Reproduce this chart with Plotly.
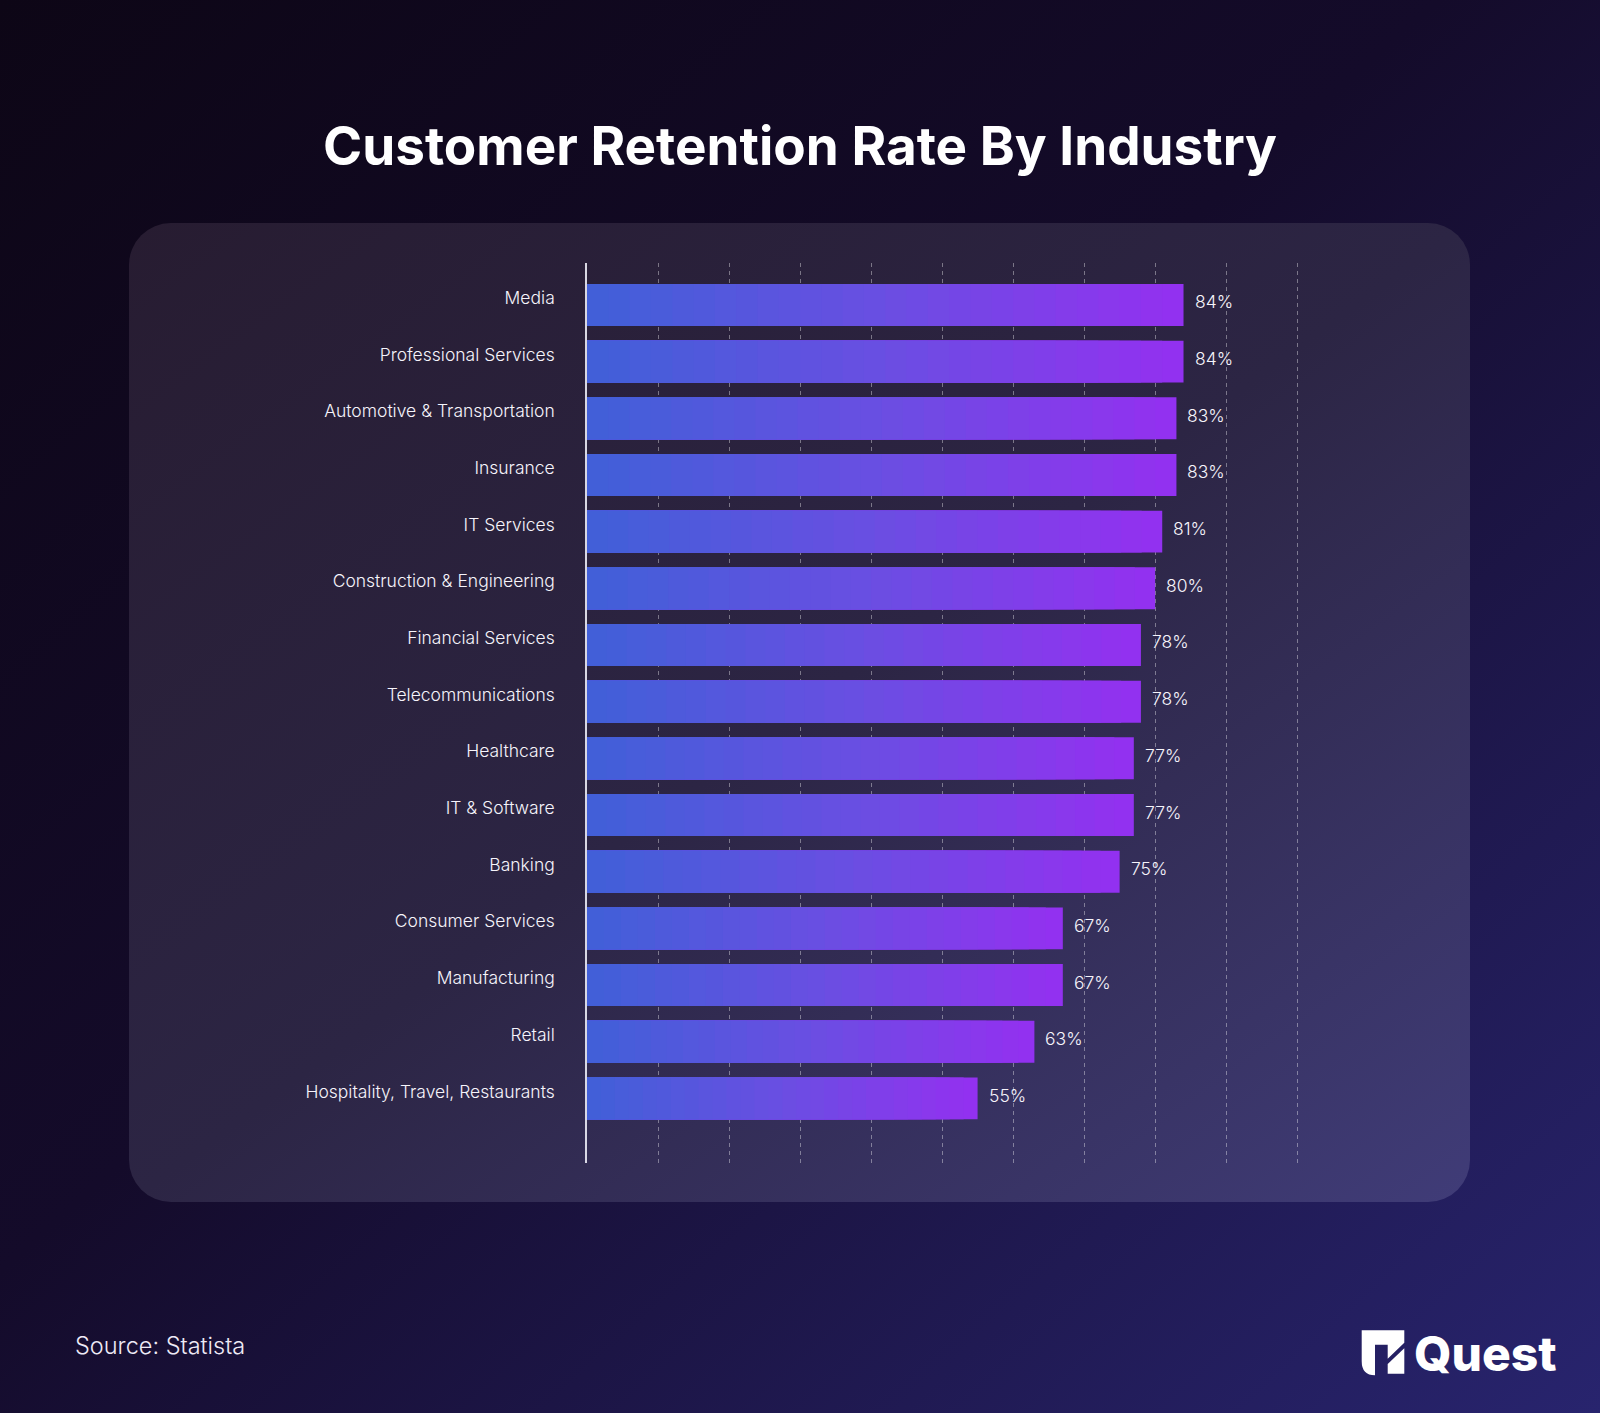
import base64
import plotly.graph_objects as go

# ---------------- data ----------------
industries = [
    "Media", "Professional Services", "Automotive & Transportation", "Insurance",
    "IT Services", "Construction & Engineering", "Financial Services",
    "Telecommunications", "Healthcare", "IT & Software", "Banking",
    "Consumer Services", "Manufacturing", "Retail", "Hospitality, Travel, Restaurants",
]
retention = [84, 84, 83, 83, 81, 80, 78, 78, 77, 77, 75, 67, 67, 63, 55]
value_labels = [f"{v}%" for v in retention]
grid_ticks = [10, 20, 30, 40, 50, 60, 70, 80, 90, 100]

title_text = "Customer Retention Rate By Industry"
source_text = "Source: Statista"
brand_text = "Quest"

# ---------------- layout geometry (pixels) ----------------
W, H = 1600, 1413
L, R, T, B = 587, 1300, 263, 1163
PW, PH = R - L, B - T


def px(x):
    return (x - L) / PW


def py(y):
    return (B - y) / PH


# ---------------- gradient helpers ----------------
stops = [(0.0, (64, 96, 216)), (0.5, (106, 78, 226)), (1.0, (148, 48, 240))]


def grad(t):
    for (t0, c0), (t1, c1) in zip(stops[:-1], stops[1:]):
        if t <= t1:
            u = (t - t0) / (t1 - t0)
            return "rgb(%d,%d,%d)" % tuple(round(a + (b - a) * u) for a, b in zip(c0, c1))
    return "rgb(%d,%d,%d)" % stops[-1][1]


N_LAYERS = 28
fig = go.Figure()
for i in range(N_LAYERS):
    f = 1 - i / N_LAYERS
    t = 1 - (i + 0.5) / N_LAYERS
    fig.add_trace(go.Bar(
        orientation="h",
        y=industries,
        x=[v * f for v in retention],
        marker=dict(color=grad(t), line=dict(width=0)),
        width=0.74,
        hoverinfo="skip",
        showlegend=False,
    ))

# value labels
for name, v, lab in zip(industries, retention, value_labels):
    fig.add_annotation(
        x=v, y=name, xref="x", yref="y", text=lab, showarrow=False,
        xanchor="left", yanchor="middle", xshift=9, yshift=3,
        font=dict(family="Inter", size=17.5, color="#f6f4fb", weight=300),
    )

# ---------------- background (gradient page + rounded panel) ----------------
svg = f"""<svg xmlns='http://www.w3.org/2000/svg' width='{W}' height='{H}' viewBox='0 0 {W} {H}' preserveAspectRatio='none'>
<defs>
<linearGradient id='bg' x1='0' y1='0' x2='1' y2='1'>
<stop offset='0' stop-color='#0d0616'/>
<stop offset='0.45' stop-color='#140b2a'/>
<stop offset='1' stop-color='#28246e'/>
</linearGradient>
<linearGradient id='pn' x1='0' y1='0' x2='1' y2='1'>
<stop offset='0' stop-color='#271c31'/>
<stop offset='0.5' stop-color='#2c2544'/>
<stop offset='1' stop-color='#403c78'/>
</linearGradient>
</defs>
<rect width='{W}' height='{H}' fill='url(#bg)'/>
<rect x='129' y='223' width='1341' height='979' rx='42' ry='42' fill='url(#pn)'/>
</svg>"""
src = "data:image/svg+xml;base64," + base64.b64encode(svg.encode()).decode()

fig.add_layout_image(dict(
    source=src, xref="paper", yref="paper",
    x=px(0), y=py(0), sizex=W / PW, sizey=H / PH,
    xanchor="left", yanchor="top", sizing="stretch", layer="below",
))

# ---------------- logo icon ----------------
def P(x, y):
    return f"{px(x):.5f},{py(y):.5f}"


icon_main = (
    "M " + P(1361.7, 1330.3) + " L " + P(1404.3, 1330.3) + " L " + P(1404.3, 1342.7)
    + " L " + P(1387.7, 1358.7) + " L " + P(1387.7, 1344.7) + " L " + P(1375.0, 1344.7)
    + " L " + P(1375.0, 1375.3) + " Q " + P(1361.7, 1375.3) + " " + P(1361.7, 1361.3) + " Z"
)
icon_block = (
    "M " + P(1387.7, 1364.0) + " L " + P(1404.3, 1348.3) + " L " + P(1404.3, 1373.7)
    + " L " + P(1387.7, 1373.7) + " Z"
)
for pth in (icon_main, icon_block):
    fig.add_shape(type="path", path=pth, xref="paper", yref="paper",
                  fillcolor="white", line=dict(width=0), layer="above")

fig.add_annotation(
    text=brand_text, xref="paper", yref="paper", x=px(1412), y=py(1353),
    xanchor="left", yanchor="middle", showarrow=False,
    font=dict(family="Inter", size=48, color="white", weight=800),
)
fig.add_annotation(
    text=source_text, xref="paper", yref="paper", x=px(73), y=py(1345),
    xanchor="left", yanchor="middle", showarrow=False,
    font=dict(family="Inter", size=23.5, color="#eeeaf6", weight=300),
)

fig.update_layout(
    width=W, height=H,
    margin=dict(l=L, r=W - R, t=T, b=H - B, pad=0),
    paper_bgcolor="#16102e",
    plot_bgcolor="rgba(0,0,0,0)",
    barmode="overlay",
    title=dict(
        text=title_text, x=0.5, xanchor="center", y=1 - 146 / H, yanchor="middle",
        yref="container", font=dict(family="Inter", size=53, color="white", weight=700),
    ),
    xaxis=dict(
        range=[0, 100.4], tickvals=grid_ticks, showticklabels=False,
        showgrid=True, gridcolor="rgba(255,255,255,0.38)", gridwidth=1, griddash="4px,4px",
        zeroline=False, showline=False, ticks="",
    ),
    yaxis=dict(
        type="category", categoryorder="array", categoryarray=industries,
        range=[len(industries) - 1 + 1.14, -0.74],
        showgrid=False, zeroline=False,
        showline=True, linecolor="rgba(235,235,245,0.9)", linewidth=1.5,
        ticks="", ticklabelstandoff=27, ticklabelshift=7,
        tickfont=dict(family="Inter", size=17.5, color="#f6f4fb", weight=300),
    ),
    font=dict(family="Inter"),
)

fig.write_html(
    "out.html",
    config={"displayModeBar": False},
    post_script="document.body.style.margin='0';document.body.style.overflow='hidden';",
)
